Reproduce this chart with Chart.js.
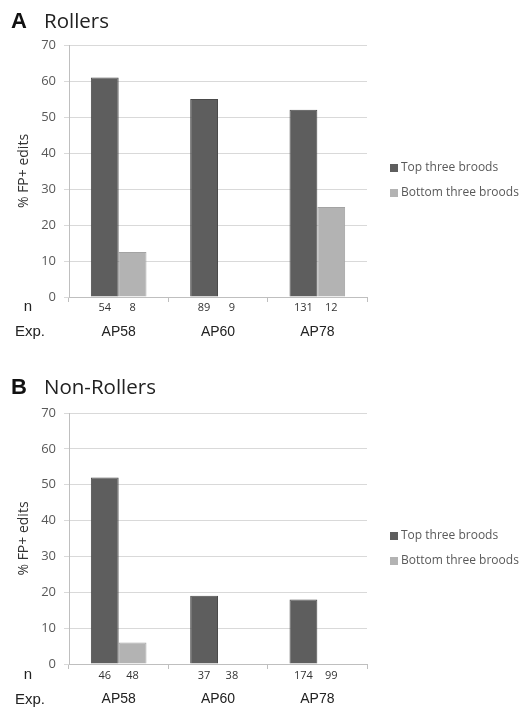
<!DOCTYPE html>
<html>
<head>
<meta charset="utf-8">
<script src="https://cdn.jsdelivr.net/npm/chart.js@4.4.1/dist/chart.umd.min.js"></script>
<style>
  html, body { margin: 0; padding: 0; background: #fff; }
  .panel { position: relative; width: 521px; }
</style>
</head>
<body>
<div class="panel" style="height:354px"><canvas id="chartA"></canvas></div>
<div class="panel" style="height:355px"><canvas id="chartB"></canvas></div>
<script>
const categories = ['AP58', 'AP60', 'AP78'];
const seriesLabels = ['Top three broods', 'Bottom three broods'];
const yTicks = [0, 10, 20, 30, 40, 50, 60, 70];

// % FP+ edits
const rollersTop = [61, 55, 52];
const rollersBottom = [12.5, 0, 25];
const nonRollersTop = [52, 19, 18];
const nonRollersBottom = [6, 0, 0];

// n per bar
const rollersTopN = [54, 89, 131];
const rollersBottomN = [8, 9, 12];
const nonRollersTopN = [46, 37, 174];
const nonRollersBottomN = [48, 38, 99];

const darkFill = '#5e5e5e', darkEdge = '#4a4a4a';
const lightFill = '#b3b3b3', lightEdge = '#a3a3a3';

const panelPlugin = {
  id: 'panelExtras',
  afterDraw(chart, args, opts) {
    const ctx = chart.ctx;
    const area = chart.chartArea;
    ctx.save();
    // panel letter + title
    ctx.textBaseline = 'middle';
    ctx.textAlign = 'left';
    ctx.fillStyle = '#111';
    ctx.font = 'bold 22px "Liberation Sans", Arial, sans-serif';
    ctx.fillText(opts.letter, 11, opts.titleY);
    ctx.font = '20.5px "Open Sans", sans-serif';
    ctx.fillStyle = '#222';
    ctx.fillText(opts.title, 44, opts.titleY);

    // n values under each bar
    ctx.font = '11px "Open Sans", sans-serif';
    ctx.fillStyle = '#333';
    ctx.textAlign = 'center';
    chart.data.datasets.forEach((ds, di) => {
      const meta = chart.getDatasetMeta(di);
      meta.data.forEach((el, i) => {
        ctx.fillText(String(opts.counts[di][i]), el.x, area.bottom + opts.nOffset);
      });
    });

    // row labels
    ctx.font = '15px "Liberation Sans", Arial, sans-serif';
    ctx.fillStyle = '#222';
    ctx.fillText('n', 28, area.bottom + opts.nOffset - 1);
    ctx.fillText('Exp.', 30, area.bottom + opts.expOffset);

    // legend
    ctx.font = '12px "Open Sans", sans-serif';
    ctx.textAlign = 'left';
    chart.data.datasets.forEach((ds, di) => {
      const y = area.top + opts.legendY[di];
      ctx.fillStyle = ds.backgroundColor;
      ctx.fillRect(390, y - 4, 8, 8);
      ctx.fillStyle = '#595959';
      ctx.fillText(ds.label, 401, y);
    });
    ctx.restore();
  }
};

function makePanel(id, top, bottom, counts, cfg) {
  return new Chart(document.getElementById(id), {
    type: 'bar',
    data: {
      labels: categories,
      datasets: [
        {
          label: seriesLabels[0],
          data: top,
          backgroundColor: darkFill,
          borderColor: darkEdge,
          borderWidth: 1,
          categoryPercentage: 0.56,
          barPercentage: 1
        },
        {
          label: seriesLabels[1],
          data: bottom,
          backgroundColor: lightFill,
          borderColor: lightEdge,
          borderWidth: 1,
          categoryPercentage: 0.56,
          barPercentage: 1
        }
      ]
    },
    options: {
      responsive: true,
      maintainAspectRatio: false,
      animation: false,
      layout: { padding: { top: cfg.padTop, right: 154, bottom: cfg.padBottom, left: 0 } },
      plugins: {
        legend: { display: false },
        tooltip: { enabled: false },
        panelExtras: {
          letter: cfg.letter,
          title: cfg.title,
          titleY: cfg.titleY,
          counts: counts,
          nOffset: cfg.nOffset,
          expOffset: cfg.expOffset,
          legendY: [123, 148]
        }
      },
      scales: {
        x: {
          grid: {
            drawOnChartArea: false,
            drawTicks: true,
            tickLength: 5,
            color: '#bfbfbf'
          },
          border: { color: '#bfbfbf' },
          ticks: {
            font: { family: '"Liberation Sans", Arial, sans-serif', size: 14 },
            color: '#222',
            padding: 22
          },
          afterFit(scale) { scale.height = 45; }
        },
        y: {
          min: 0,
          max: 70,
          afterBuildTicks(scale) { scale.ticks = yTicks.map(v => ({ value: v })); },
          grid: { color: '#d9d9d9', tickLength: 5 },
          border: { color: '#bfbfbf' },
          ticks: {
            font: { family: '"Open Sans", sans-serif', size: 13 },
            color: '#595959',
            padding: 8
          },
          title: {
            display: true,
            text: '% FP+ edits',
            font: { family: '"Open Sans", sans-serif', size: 14 },
            color: '#333',
            padding: { top: 16, bottom: 0 }
          },
          afterFit(scale) { scale.width = 69; }
        }
      }
    },
    plugins: [panelPlugin]
  });
}

makePanel('chartA', rollersTop, rollersBottom, [rollersTopN, rollersBottomN], {
  letter: 'A', title: 'Rollers', titleY: 22,
  padTop: 45, padBottom: 12, nOffset: 11, expOffset: 35
});
makePanel('chartB', nonRollersTop, nonRollersBottom, [nonRollersTopN, nonRollersBottomN], {
  letter: 'B', title: 'Non-Rollers', titleY: 34,
  padTop: 59, padBottom: 0, nOffset: 12, expOffset: 36
});
</script>
</body>
</html>
